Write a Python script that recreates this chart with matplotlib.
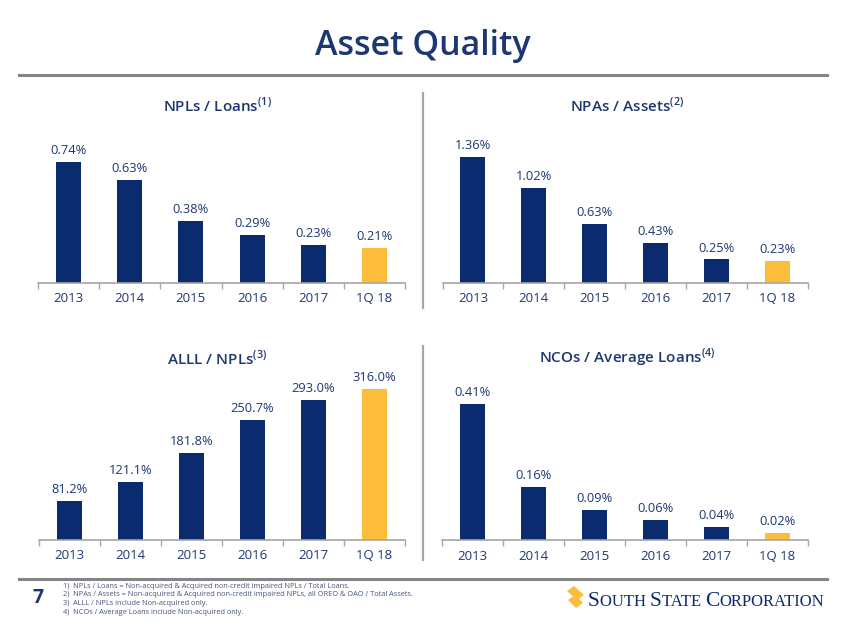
import matplotlib
matplotlib.use('Agg')
import matplotlib.pyplot as plt
from matplotlib.lines import Line2D
from matplotlib.patches import Polygon

plt.rcParams['font.family'] = ['Open Sans', 'DejaVu Sans']

# donnees
annees = ['2013', '2014', '2015', '2016', '2017', '1Q 18']
npl_loans = [0.74, 0.63, 0.38, 0.29, 0.23, 0.21]
npa_assets = [1.36, 1.02, 0.63, 0.43, 0.25, 0.23]
alll_npl = [81.2, 121.1, 181.8, 250.7, 293.0, 316.0]
nco_loans = [0.41, 0.16, 0.09, 0.06, 0.04, 0.02]

labels_npl = ['0.74%', '0.63%', '0.38%', '0.29%', '0.23%', '0.21%']
labels_npa = ['1.36%', '1.02%', '0.63%', '0.43%', '0.25%', '0.23%']
labels_alll = ['81.2%', '121.1%', '181.8%', '250.7%', '293.0%', '316.0%']
labels_nco = ['0.41%', '0.16%', '0.09%', '0.06%', '0.04%', '0.02%']

notes = [
    '1)  NPLs / Loans = Non-acquired & Acquired non-credit impaired NPLs / Total Loans.',
    '2)  NPAs / Assets = Non-acquired & Acquired non-credit impaired NPLs, all OREO & OAO / Total Assets.',
    '3)  ALLL / NPLs include Non-acquired only.',
    '4)  NCOs / Average Loans include Non-acquired only.',
]

BLEU = '#0A2C6E'
TEXTE = '#1D3870'
OR = '#FDBD3B'
GRIS = '#A6A6A6'

W, H = 846, 635
fig = plt.figure(figsize=(W / 100, H / 100), dpi=100)


def rect(gauche, haut, droite, bas):
    # coordonnees pixels -> coordonnees figure
    return [gauche / W, 1 - bas / H, (droite - gauche) / W, (bas - haut) / H]


def graphe(pos, valeurs, etiquettes, ymax, titre, ytitre, xtitre):
    ax = fig.add_axes(pos)
    couleurs = [BLEU] * (len(valeurs) - 1) + [OR]
    x = range(len(valeurs))
    ax.bar(x, valeurs, width=0.41, color=couleurs)
    for i, v in enumerate(valeurs):
        ax.annotate(etiquettes[i], (i, v), xytext=(0, 3.5), textcoords='offset points',
                    ha='center', va='bottom', fontsize=9.3, color=TEXTE)
    ax.set_xlim(-0.5, len(valeurs) - 0.5)
    ax.set_ylim(0, ymax)
    ax.set_xticks(list(x))
    ax.set_xticklabels(annees, fontsize=9.5, color=TEXTE)
    ax.set_xticks([i - 0.5 for i in range(len(valeurs) + 1)], minor=True)
    ax.tick_params(axis='x', which='major', length=0, pad=7)
    ax.tick_params(axis='x', which='minor', length=4, width=1, color=GRIS, direction='out')
    ax.set_yticks([])
    for s in ['top', 'right', 'left']:
        ax.spines[s].set_visible(False)
    ax.spines['bottom'].set_color(GRIS)
    ax.spines['bottom'].set_linewidth(1.2)
    ax.patch.set_alpha(0)
    fig.text(xtitre / W, 1 - ytitre / H, titre, ha='center', va='center',
             fontsize=11, fontweight='semibold', color=TEXTE)
    return ax


graphe(rect(38, 130, 405, 282.5), npl_loans, labels_npl, 152.5 / 162.7,
       r'NPLs / Loans$^{\mathregular{(1)}}$', 105, 217)
graphe(rect(442.5, 130, 807.7, 282.5), npa_assets, labels_npa, 152.5 / 92.4,
       r'NPAs / Assets$^{\mathregular{(2)}}$', 105, 627)
graphe(rect(39, 375, 405, 539.5), alll_npl, labels_alll, 164.5 / 0.477,
       r'ALLL / NPLs$^{\mathregular{(3)}}$', 358, 217)
graphe(rect(441.7, 375, 807.7, 540), nco_loans, labels_nco, 164.5 / 331.7,
       r'NCOs / Average Loans$^{\mathregular{(4)}}$', 358, 627)

# titre et lignes
fig.text(423 / W, 1 - 46 / H, 'Asset Quality', ha='center', va='center',
         fontsize=24.5, fontweight='semibold', color=TEXTE)
fig.add_artist(Line2D([19 / W, 827 / W], [1 - 74.5 / H] * 2, color='#858585', lw=2.2))
fig.add_artist(Line2D([19 / W, 827 / W], [1 - 579 / H] * 2, color='#858585', lw=2.2))
fig.add_artist(Line2D([423 / W] * 2, [1 - 93 / H, 1 - 308 / H], color=GRIS, lw=1.6))
fig.add_artist(Line2D([423 / W] * 2, [1 - 346 / H, 1 - 560 / H], color=GRIS, lw=1.6))

# pied de page
fig.text(38 / W, 1 - 598 / H, '7', ha='center', va='center', fontsize=14,
         fontweight='bold', color=TEXTE)
for k, n in enumerate(notes):
    fig.text(63 / W, 1 - (586 + 8.7 * k) / H, n, ha='left', va='center',
             fontsize=5.3, color='#44557A')

# logo
for pts in ([(567, 591), (574, 586), (584, 595), (577, 600)],
            [(568, 600), (575, 595), (583, 603), (576, 608)]):
    fig.add_artist(Polygon([(px / W, 1 - py / H) for px, py in pts], closed=True,
                           transform=fig.transFigure, color=OR, lw=0))

renderer = fig.canvas.get_renderer()
xpos = 588
morceaux = [('S', 15.5), ('OUTH ', 12), ('S', 15.5), ('TATE ', 12), ('C', 15.5), ('ORPORATION', 12)]
for txt, taille in morceaux:
    t = fig.text(xpos / W, 1 - 605.5 / H, txt, ha='left', va='baseline',
                 fontsize=taille, color=BLEU, family='Liberation Serif')
    bb = t.get_window_extent(renderer=renderer)
    xpos += bb.width

fig.savefig('out.png', dpi=100)
